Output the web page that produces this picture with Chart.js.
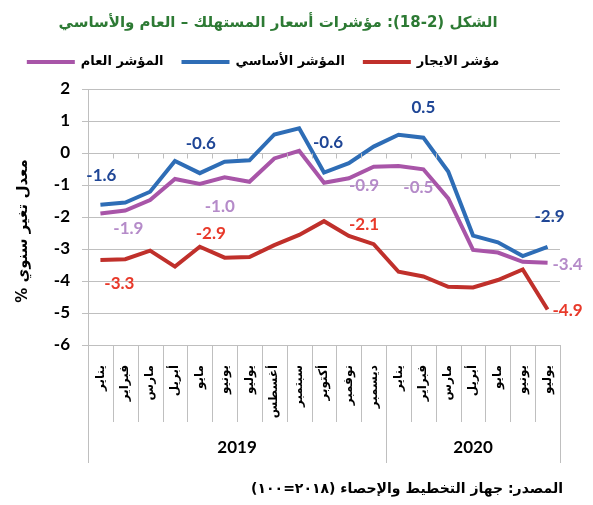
<!DOCTYPE html>
<html><head><meta charset="utf-8">
<script src="https://cdn.jsdelivr.net/npm/chart.js@4"></script>
<style>html,body{margin:0;padding:0;background:#fff}</style>
</head><body>
<canvas id="c" width="593" height="505" style="width:593px;height:505px"></canvas>
<script>
// ---- data ----
const months = ['يناير','فبراير','مارس','أبريل','مايو','يونيو','يوليو','أغسطس','سبتمبر','أكتوبر','نوفمبر','ديسمبر',
                'يناير','فبراير','مارس','أبريل','مايو','يونيو','يوليو'];
const years = ['2019', '2020'];
const monthsPerYear = [12, 7];
const rentIndex    = [-3.34,-3.32,-3.05,-3.55,-2.93,-3.27,-3.25,-2.88,-2.56,-2.13,-2.59,-2.85,-3.71,-3.86,-4.18,-4.20,-3.97,-3.64,-4.89];
const coreIndex    = [-1.62,-1.55,-1.21,-0.25,-0.63,-0.27,-0.23,0.58,0.77,-0.61,-0.32,0.20,0.57,0.48,-0.58,-2.58,-2.79,-3.22,-2.93];
const generalIndex = [-1.89,-1.80,-1.47,-0.81,-0.97,-0.76,-0.90,-0.17,0.07,-0.93,-0.79,-0.43,-0.41,-0.51,-1.42,-3.03,-3.11,-3.40,-3.43];
const yMin = -6, yMax = 2, yStep = 1;
const seriesNames = ['مؤشر الايجار', 'المؤشر الأساسي', 'المؤشر العام'];
const titleText = 'الشكل (2-18): مؤشرات أسعار المستهلك – العام والأساسي';
const yTitleText = '% معدل تغير سنوي';
const sourceText = 'المصدر: جهاز التخطيط والإحصاء (٢٠١٨=١٠٠)';

const AR = '"DejaVu Sans", sans-serif';
const NUM = 'Lato, "Liberation Sans", sans-serif';

// data labels: dataset index -> {point index: [dx, dy]}
const labelCfg = [
  {color:'#E8392A', pts:{0:[19,24], 4:[11,-13], 9:[40,3], 18:[20,1]}},
  {color:'#1F4696', pts:{0:[1,-29], 4:[1,-30], 9:[4,-30], 13:[0,-30], 18:[2,-30]}},
  {color:'#B58BC9', pts:{0:[28,15], 4:[20,22], 9:[40,3], 13:[-5,18], 18:[20,2]}}
];

const decorPlugin = {
  id: 'decor',
  afterDraw(chart) {
    const ctx = chart.ctx;
    const xs = chart.scales.x, ys = chart.scales.y;
    const ca = chart.chartArea;
    const w = xs.getPixelForValue(1) - xs.getPixelForValue(0);
    const n = months.length;
    ctx.save();
    // x separators
    ctx.strokeStyle = '#BFBFBF';
    ctx.lineWidth = 1;
    const groupEnds = [0];
    let acc = 0;
    monthsPerYear.forEach(m => { acc += m; groupEnds.push(acc); });
    const y0 = Math.round(ys.getPixelForValue(0)) + 0.5;
    for (let k = 0; k <= n; k++) {
      const x = Math.round(xs.getPixelForValue(k) - w / 2) + 0.5;
      const long = groupEnds.includes(k);
      ctx.beginPath();
      ctx.moveTo(x, ca.bottom);
      ctx.lineTo(x, ca.bottom + (long ? 118 : 77));
      ctx.stroke();
      if (k > 0 && k < n) {
        ctx.beginPath();
        ctx.moveTo(x, y0);
        ctx.lineTo(x, y0 + 5);
        ctx.stroke();
      }
    }
    // years
    ctx.fillStyle = '#000';
    ctx.font = 'bold 17px ' + NUM;
    ctx.textAlign = 'center';
    ctx.textBaseline = 'middle';
    for (let g = 0; g < years.length; g++) {
      const a = xs.getPixelForValue(groupEnds[g]) - w / 2;
      const b = xs.getPixelForValue(groupEnds[g + 1]) - w / 2;
      ctx.fillText(years[g], (a + b) / 2, ca.bottom + 103);
    }
    // data labels
    ctx.font = 'bold 17px ' + NUM;
    chart.data.datasets.forEach((ds, di) => {
      const meta = chart.getDatasetMeta(di);
      const cfg = labelCfg[di];
      ctx.fillStyle = cfg.color;
      Object.keys(cfg.pts).forEach(k => {
        const i = +k;
        const el = meta.data[i];
        const off = cfg.pts[k];
        ctx.fillText(ds.data[i].toFixed(1), el.x + off[0], el.y + off[1]);
      });
    });
    // title
    ctx.direction = 'rtl';
    ctx.fillStyle = '#2D7A34';
    ctx.font = 'bold 15px ' + AR;
    ctx.textAlign = 'center';
    ctx.fillText(titleText, 278, 23);
    // legend: items right to left, line to the left of each text
    ctx.font = 'bold 13px ' + AR;
    ctx.textAlign = 'right';
    const lineW = 48, gap = 6, itemGap = 18;
    const widths = chart.data.datasets.map(ds => ctx.measureText(ds.label).width);
    const total = widths.reduce((a, b) => a + b, 0) + widths.length * (lineW + gap) + (widths.length - 1) * itemGap;
    let xr = 263 + total / 2;
    chart.data.datasets.forEach((ds, di) => {
      ctx.fillStyle = '#000';
      ctx.fillText(ds.label, xr, 62);
      const lr = xr - widths[di] - gap;
      ctx.fillStyle = ds.borderColor;
      ctx.fillRect(lr - lineW, 60, lineW, 4);
      xr = lr - lineW - itemGap;
    });
    // source
    ctx.fillStyle = '#000';
    ctx.font = 'bold 14px ' + AR;
    ctx.textAlign = 'right';
    ctx.fillText(sourceText, 563, 489);
    // y title
    ctx.translate(23, 231);
    ctx.rotate(-Math.PI / 2);
    ctx.direction = 'ltr';
    ctx.textAlign = 'center';
    ctx.font = 'bold 15px ' + AR;
    ctx.fillText(yTitleText, 0, 0);
    ctx.restore();
  }
};

new Chart(document.getElementById('c'), {
  type: 'line',
  data: {
    labels: months,
    datasets: [
      {label: seriesNames[0], data: rentIndex,    borderColor: '#C0302B', borderWidth: 4, pointRadius: 0, tension: 0},
      {label: seriesNames[1], data: coreIndex,    borderColor: '#2E6DB6', borderWidth: 4, pointRadius: 0, tension: 0},
      {label: seriesNames[2], data: generalIndex, borderColor: '#A855A8', borderWidth: 4, pointRadius: 0, tension: 0}
    ]
  },
  options: {
    responsive: false,
    devicePixelRatio: 1,
    animation: false,
    layout: {padding: {top: 89, right: 33, bottom: 0, left: 0}},
    plugins: {legend: {display: false}, title: {display: false}, tooltip: {enabled: false}},
    scales: {
      x: {
        type: 'category',
        offset: true,
        grid: {display: false},
        border: {display: false},
        ticks: {
          autoSkip: false, minRotation: 90, maxRotation: 90, padding: 12,
          color: '#000', font: {family: AR, size: 12, weight: 'bold'}
        },
        afterFit(s) { s.height = 160; }
      },
      y: {
        min: yMin, max: yMax,
        grid: {color: '#BFBFBF', lineWidth: 1, tickLength: 6},
        border: {color: '#BFBFBF'},
        ticks: {stepSize: yStep, padding: 12, color: '#000', font: {family: NUM, size: 17, weight: 'bold'}},
        afterFit(s) { s.width = 88; }
      }
    }
  },
  plugins: [decorPlugin]
});
</script>
</body></html>
